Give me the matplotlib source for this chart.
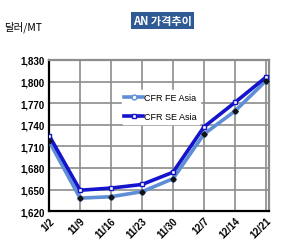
import matplotlib.pyplot as plt
from matplotlib.ticker import FuncFormatter

# AN price trend, USD/MT
dates = ["1/2", "11/9", "11/16", "11/23", "11/30", "12/7", "12/14", "12/21"]
fe_asia = [1717, 1638, 1640, 1647, 1665, 1727, 1759, 1801]
se_asia = [1725, 1649, 1652, 1657, 1674, 1737, 1771, 1806]
y_ticks = [1620, 1650, 1680, 1710, 1740, 1770, 1800, 1830]

FE_COLOR = "#5E8ED6"
SE_COLOR = "#1414CC"
GRID_COLOR = "#8C8C8C"

plt.rcParams["font.family"] = ["Liberation Sans Narrow", "Liberation Sans", "DejaVu Sans"]

fig = plt.figure(figsize=(2.94, 2.51), dpi=100)
ax = fig.add_axes([0.167, 0.155, 0.748, 0.602])

x = list(range(len(dates)))
ax.plot(x, fe_asia, color=FE_COLOR, lw=2.6, marker="o", ms=3.5,
        mfc="white", mec=FE_COLOR, mew=1.0, label="CFR FE Asia", zorder=3)
ax.plot(x, se_asia, color=SE_COLOR, lw=2.6, marker="s", ms=3.5,
        mfc="white", mec=SE_COLOR, mew=1.0, label="CFR SE Asia", zorder=4)
# dark point markers drawn by the original sheet
ax.plot(x, fe_asia, ls="none", marker="D", ms=2.6, color="#111111", zorder=5)

ax.set_xlim(0, 7.1)
ax.set_ylim(1620, 1830)
ax.set_xticks(x)
ax.set_xticklabels(dates, rotation=45, ha="right", rotation_mode="anchor",
                   fontsize=7, fontweight="bold")
ax.set_yticks(y_ticks)
ax.yaxis.set_major_formatter(FuncFormatter(lambda v, p: f"{int(v):,}"))
for lab in ax.get_yticklabels():
    lab.set_fontsize(7)
    lab.set_fontweight("bold")
ax.tick_params(length=0, pad=3)

ax.grid(True, color=GRID_COLOR, lw=1.2, zorder=0)
ax.set_axisbelow(True)
for side in ("top", "right"):
    ax.spines[side].set_color(GRID_COLOR)
    ax.spines[side].set_linewidth(1.6)
for side in ("left", "bottom"):
    ax.spines[side].set_color("black")
    ax.spines[side].set_linewidth(1.6)

leg = ax.legend(loc="upper left", bbox_to_anchor=(0.31, 0.83), frameon=True,
                fontsize=6.5, handlelength=2.0, labelspacing=1.1,
                borderpad=0.3, handletextpad=0.2)
leg.get_frame().set_edgecolor("white")
leg.get_frame().set_facecolor("white")
leg.get_frame().set_alpha(1.0)

fig.text(0.553, 0.915, "AN 가격추이", ha="center", va="center", fontsize=8,
         fontweight="bold", color="white",
         family=["Noto Sans CJK KR", "DejaVu Sans"],
         bbox=dict(boxstyle="square,pad=0.2", fc="#2F5B94", ec="none"))
fig.text(0.015, 0.89, "달러/MT", ha="left", va="center", fontsize=7.5,
         family=["Noto Sans CJK KR", "DejaVu Sans"])

fig.savefig("out.png", dpi=100)
